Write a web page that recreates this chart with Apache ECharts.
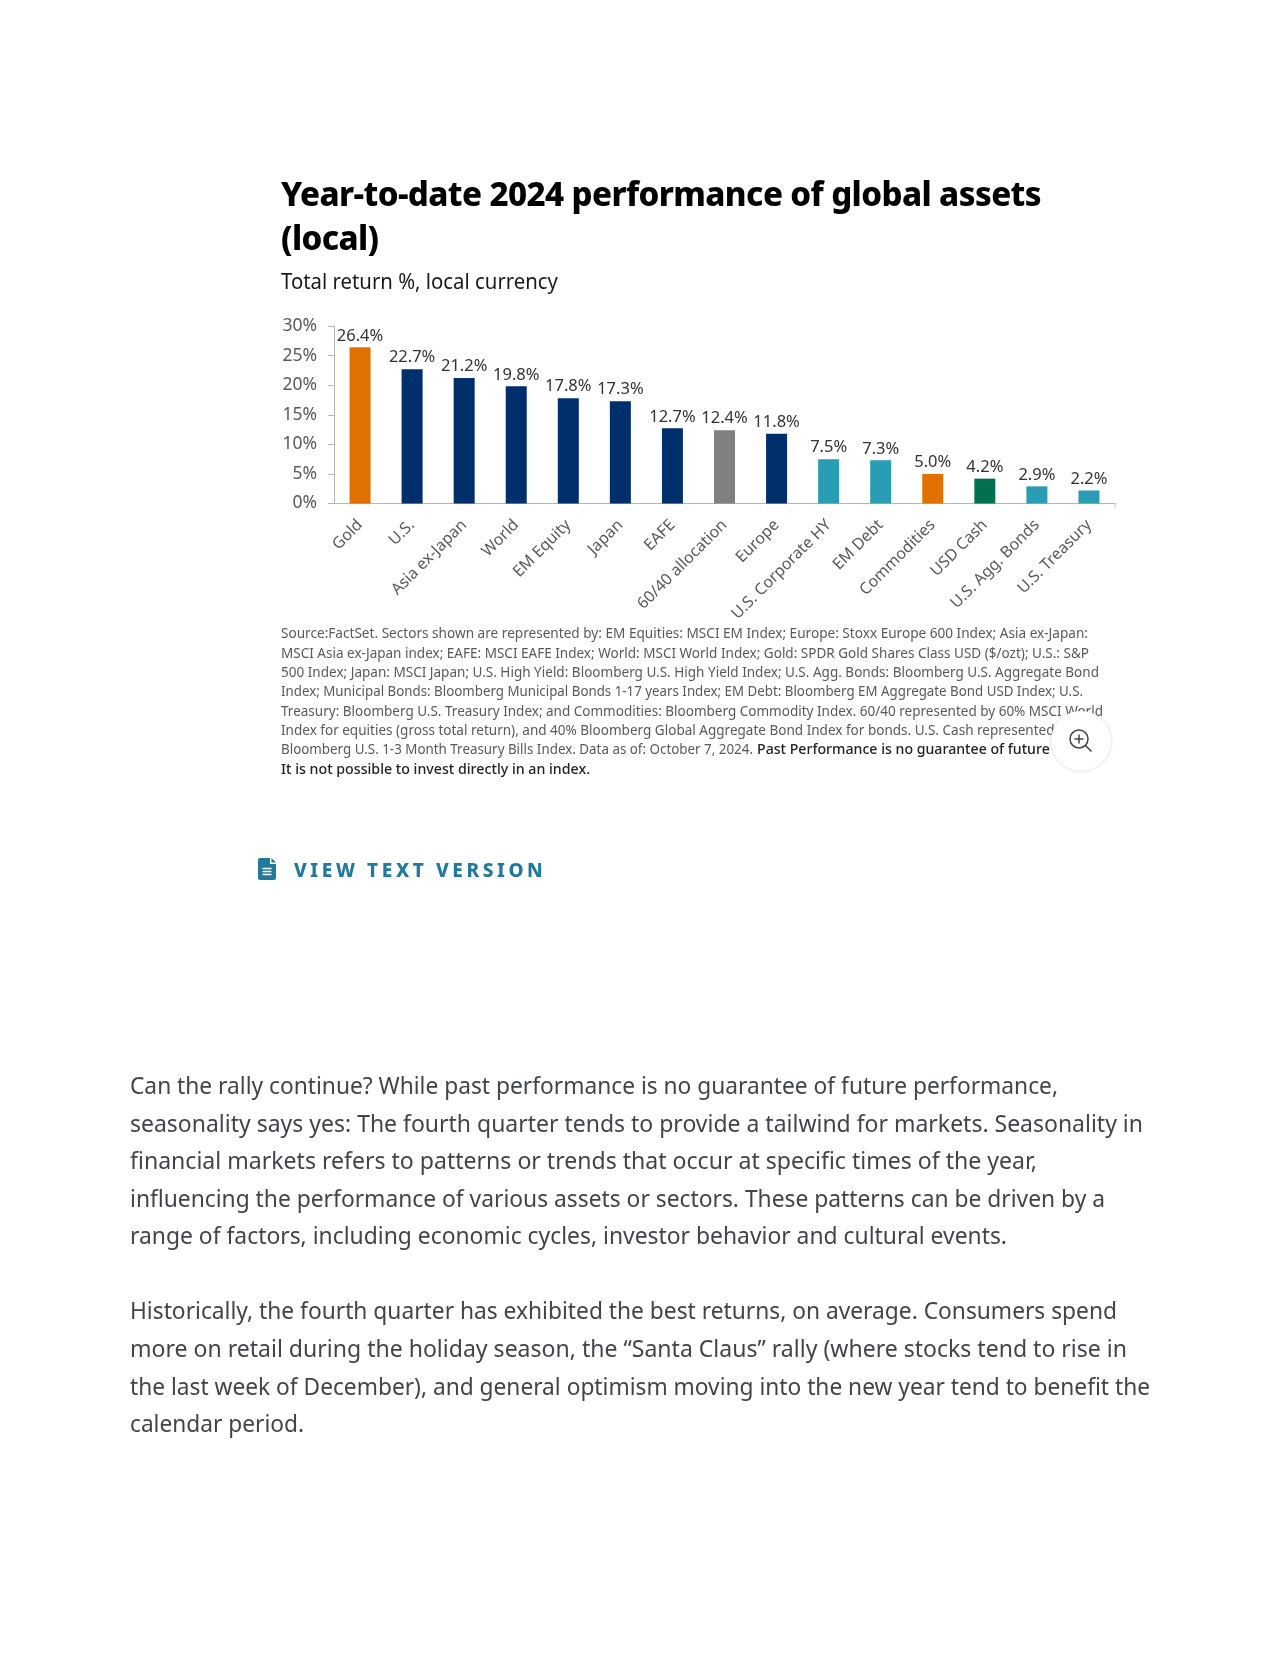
<!DOCTYPE html>
<html>
<head>
<meta charset="utf-8">
<title>Year-to-date 2024 performance of global assets (local)</title>
<script src="https://cdn.jsdelivr.net/npm/echarts@6/dist/echarts.min.js"></script>
<style>
html, body { margin: 0; padding: 0; background: #fff; }
body { width: 1280px; height: 1656px; position: relative; overflow: hidden; font-family: "Noto Sans", sans-serif; }
#chart { position: absolute; left: 0; top: 0; width: 1280px; height: 1656px; }
.t { position: absolute; white-space: nowrap; transform-origin: left center; }
.title { left: 281px; font-size: 33px; line-height: 44px; font-weight: 800; color: #000; letter-spacing: -0.6px; }
.sub { left: 281px; top: 265px; font-size: 21px; line-height: 32px; color: #1a1a1a; }
.note { left: 281px; font-size: 14.4px; line-height: 19px; color: #595959; }
.note.dark { color: #222; font-weight: 500; }
.body { left: 130px; font-size: 23.5px; line-height: 37px; color: #41444b; }
.view { left: 294px; top: 857px; font-size: 19px; line-height: 26px; font-weight: 800; letter-spacing: 3.6px; color: #1f7a9b; }
#zoomBtn { position: absolute; z-index: 5; left: 1051px; top: 711px; width: 60px; height: 60px; border-radius: 50%; background: #fff; box-shadow: 0 0 3px rgba(0,0,0,.2); }
#fileIcon { position: absolute; left: 258px; top: 858px; }
</style>
</head>
<body>
<div id="chart"></div>
<div class="t title" style="top:172px" data-w="760">Year-to-date 2024 performance of global assets</div>
<div class="t title" style="top:216px">(local)</div>
<div class="t sub" data-w="277">Total return %, local currency</div>
<div id="notes"></div>
<div id="zoomBtn">
	<svg width="60" height="60" viewBox="0 0 60 60" fill="none" stroke="#444" stroke-width="1.5">
		<circle cx="28" cy="28" r="9"/>
		<path d="M28 23.5v9M23.5 28h9M34.5 34.5l6 6"/>
	</svg>
</div>
<svg id="fileIcon" width="18" height="22" viewBox="0 0 18 22">
	<path d="M2 0h10v6h6v14a2 2 0 0 1-2 2H2a2 2 0 0 1-2-2V2a2 2 0 0 1 2-2z" fill="#1f7a9b"/>
	<path d="M13.5 0l4.5 4.5h-4.5z" fill="#1f7a9b"/>
	<path d="M4.5 10.5h9M4.5 13.5h9M4.5 16.5h9" stroke="#fff" stroke-width="1.4"/>
</svg>
<div class="t view">VIEW TEXT VERSION</div>
<div id="paras"></div>
<script>
var categories = ['Gold', 'U.S.', 'Asia ex-Japan', 'World', 'EM Equity', 'Japan', 'EAFE', '60/40 allocation', 'Europe', 'U.S. Corporate HY', 'EM Debt', 'Commodities', 'USD Cash', 'U.S. Agg. Bonds', 'U.S. Treasury'];
var returns = [26.4, 22.7, 21.2, 19.8, 17.8, 17.3, 12.7, 12.4, 11.8, 7.5, 7.3, 5.0, 4.2, 2.9, 2.2];
var barColors = ['#e07000', '#002f6c', '#002f6c', '#002f6c', '#002f6c', '#002f6c', '#002f6c', '#808080', '#002f6c', '#2a9db5', '#2a9db5', '#e07000', '#00704f', '#2a9db5', '#2a9db5'];

var noteLines = [
	'Source:FactSet. Sectors shown are represented by: EM Equities: MSCI EM Index; Europe: Stoxx Europe 600 Index; Asia ex-Japan:',
	'MSCI Asia ex-Japan index; EAFE: MSCI EAFE Index; World: MSCI World Index; Gold: SPDR Gold Shares Class USD ($/ozt); U.S.: S&amp;P',
	'500 Index; Japan: MSCI Japan; U.S. High Yield: Bloomberg U.S. High Yield Index; U.S. Agg. Bonds: Bloomberg U.S. Aggregate Bond',
	'Index; Municipal Bonds: Bloomberg Municipal Bonds 1-17 years Index; EM Debt: Bloomberg EM Aggregate Bond USD Index; U.S.',
	'Treasury: Bloomberg U.S. Treasury Index; and Commodities: Bloomberg Commodity Index. 60/40 represented by 60% MSCI World',
	'Index for equities (gross total return), and 40% Bloomberg Global Aggregate Bond Index for bonds. U.S. Cash represented by',
	'Bloomberg U.S. 1-3 Month Treasury Bills Index. Data as of: October 7, 2024.'
];
var noteTops = [623, 643, 662, 681, 701, 720, 739];
var noteWidths = [807, 808, 818, 802, 822, 792, 472];

var bodyLines = [
	'Can the rally continue? While past performance is no guarantee of future performance,',
	'seasonality says yes: The fourth quarter tends to provide a tailwind for markets. Seasonality in',
	'financial markets refers to patterns or trends that occur at specific times of the year,',
	'influencing the performance of various assets or sectors. These patterns can be driven by a',
	'range of factors, including economic cycles, investor behavior and cultural events.',
	'Historically, the fourth quarter has exhibited the best returns, on average. Consumers spend',
	'more on retail during the holiday season, the “Santa Claus” rally (where stocks tend to rise in',
	'the last week of December), and general optimism moving into the new year tend to benefit the',
	'calendar period.'
];
var bodyTops = [1067, 1105, 1142, 1180, 1217, 1292, 1330, 1368, 1405];
var bodyWidths = [928, 1013, 907, 975, 877, 987, 997, 1020, 174];

function addLine(parent, cls, text, top, width, left) {
	var el = document.createElement('div');
	el.className = 't ' + cls;
	el.style.top = top + 'px';
	if(left) {
		el.style.left = left + 'px';
	}
	el.innerHTML = text;
	el.setAttribute('data-w', width);
	parent.appendChild(el);
}

var notesEl = document.getElementById('notes');
for(var i = 0; i < noteLines.length; i++) {
	addLine(notesEl, 'note', noteLines[i], noteTops[i], noteWidths[i]);
}
addLine(notesEl, 'note dark', 'Past Performance is no guarantee of future results.', 739, 346, 757);
addLine(notesEl, 'note dark', 'It is not possible to invest directly in an index.', 759, 309);

var parasEl = document.getElementById('paras');
for(var j = 0; j < bodyLines.length; j++) {
	addLine(parasEl, 'body', bodyLines[j], bodyTops[j], bodyWidths[j]);
}

//squeeze each line to the width it has in the picture
function fitLines() {
	var lines = document.querySelectorAll('[data-w]');
	for(var k = 0; k < lines.length; k++) {
		var natural = lines[k].getBoundingClientRect().width;
		lines[k].style.transform = 'scaleX(' + (lines[k].getAttribute('data-w') / natural) + ')';
	}
}
fitLines();

var myChart = echarts.init(document.getElementById('chart'));
var axisColor = '#b5b5b5';
var option = {
	animation: false,
	textStyle: { fontFamily: 'Noto Sans' },
	grid: { left: 334, top: 326, width: 781, height: 177.5, containLabel: false },
	xAxis: {
		type: 'category',
		data: categories,
		axisLine: { lineStyle: { color: axisColor, width: 1 } },
		axisTick: { alignWithLabel: true, length: 4, lineStyle: { color: axisColor } },
		axisLabel: { rotate: 45, interval: 0, margin: 19, fontSize: 15.9, color: '#595959', padding: [4, 0, 0, 0] }
	},
	yAxis: {
		type: 'value',
		min: 0,
		max: 30,
		interval: 5,
		splitLine: { show: false },
		axisLine: { show: true, lineStyle: { color: axisColor, width: 1 } },
		axisTick: { show: true, length: 6, lineStyle: { color: axisColor } },
		axisLabel: { margin: 17, fontSize: 17.5, color: '#595959', padding: [4, 0, 0, 0], formatter: '{value}%' }
	},
	series: [{
		type: 'bar',
		barWidth: 21,
		data: returns.map(function(v, i) {
			return { value: v, itemStyle: { color: barColors[i] } };
		}),
		label: {
			show: true,
			position: 'top',
			distance: 3,
			fontSize: 16.5,
			color: '#333',
			formatter: function(p) { return p.value.toFixed(1) + '%'; }
		}
	}],
	//closing tick at the far right of the category axis
	graphic: [{
		type: 'line',
		shape: { x1: 1115, y1: 503.5, x2: 1115, y2: 507.5 },
		style: { stroke: axisColor, lineWidth: 1 }
	}]
};
myChart.setOption(option);
</script>
</body>
</html>
